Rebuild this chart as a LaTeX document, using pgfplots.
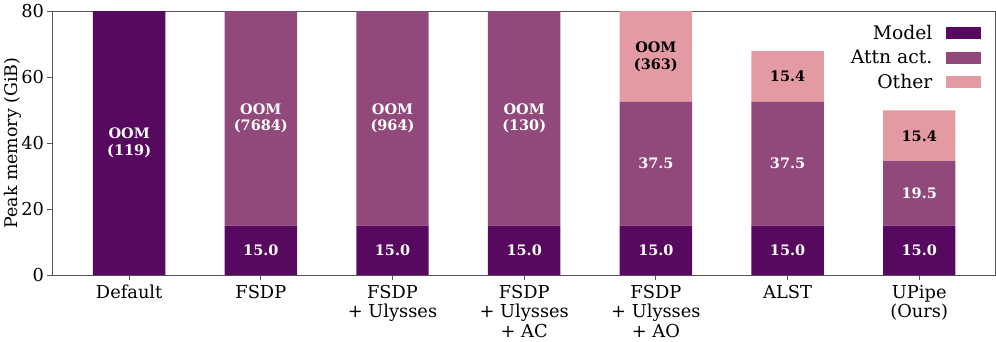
\documentclass[border=0pt]{standalone}
\usepackage{pgfplots}
\pgfplotsset{compat=1.18}
\usepackage{fontspec}
\setmainfont{DejaVu Serif}

\definecolor{cmodel}{HTML}{57085F}
\definecolor{cattn}{HTML}{91497C}
\definecolor{cother}{HTML}{E49AA3}
\definecolor{frame}{HTML}{555555}

\pgfplotsset{
  base/.style={
    scale only axis,
    width=704pt, height=197pt,
    xmin=-0.58, xmax=6.58,
    ymin=0, ymax=80,
  },
}

\begin{document}
\begin{tikzpicture}
  \begin{axis}[
      base,
      ybar stacked,
      bar width=0.55,
      axis line style={frame, line width=0.6pt},
      tick style={frame, line width=0.6pt},
      tick align=outside,
      tick pos=left,
      major tick length=4pt,
      xtick=data,
      xticklabels={Default, FSDP, {FSDP\\+ Ulysses}, {FSDP\\+ Ulysses\\+ AC},
        {FSDP\\+ Ulysses\\+ AO}, ALST, {UPipe\\(Ours)}},
      xticklabel style={align=center, font=\fontsize{13.3}{14.5}\selectfont},
      ytick={0,20,40,60,80},
      yticklabel style={font=\fontsize{13.3}{15}\selectfont, xshift=1pt},
      /pgf/number format/assume math mode=true,
      ylabel={Peak memory (GiB)},
      ylabel style={font=\fontsize{13}{14}\selectfont, yshift=-7pt},
      legend plot pos=right,
      legend style={draw=none, fill=none, at={(1,1)}, anchor=north east,
        xshift=-8pt, yshift=-6pt, row sep=2.5pt,
        font=\fontsize{14}{16}\selectfont},
      legend cell align=right,
      area legend,
      legend image code/.code={
        \path (0pt,0pt);
        \fill[#1] (8pt,-4.5pt) rectangle (34pt,4.5pt);},
    ]
    \addplot[fill=cmodel, draw=none] coordinates
      {(0,80) (1,15) (2,15) (3,15) (4,15) (5,15) (6,15)};
    \addplot[fill=cattn, draw=none] coordinates
      {(0,0) (1,65) (2,65) (3,65) (4,37.5) (5,37.5) (6,19.5)};
    \addplot[fill=cother, draw=none] coordinates
      {(0,0) (1,0) (2,0) (3,0) (4,27.5) (5,15.4) (6,15.4)};
    \legend{Model, Attn act., Other}
  \end{axis}
  \begin{axis}[
      base,
      hide axis,
      nodes near coords,
      point meta=explicit symbolic,
      nodes near coords style={anchor=center, align=center,
        font=\bfseries\fontsize{10.8}{12.5}\selectfont},
    ]
    \addplot[draw=none, mark=none, nodes near coords style={text=white}] coordinates {
      (0,40) [{OOM\\(119)}]
      (1,47.5) [{OOM\\(7684)}]
      (2,47.5) [{OOM\\(964)}]
      (3,47.5) [{OOM\\(130)}]
      (1,7.5) [15.0] (2,7.5) [15.0] (3,7.5) [15.0]
      (4,7.5) [15.0] (5,7.5) [15.0] (6,7.5) [15.0]
      (4,33.75) [37.5] (5,33.75) [37.5] (6,24.75) [19.5]
    };
    \addplot[draw=none, mark=none, nodes near coords style={text=black}] coordinates {
      (4,66.25) [{OOM\\(363)}]
      (5,60.2) [15.4]
      (6,42.2) [15.4]
    };
  \end{axis}
\end{tikzpicture}
\end{document}
